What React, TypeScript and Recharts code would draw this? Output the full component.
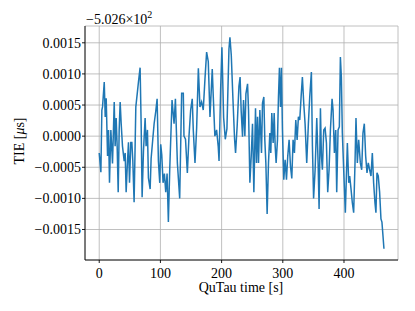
import React from 'react';
import { LineChart, Line, XAxis, YAxis, CartesianGrid } from 'recharts';

const times = [
  0, 2.7, 4.3, 5.4, 8.2, 9.8, 11.4, 13.6, 15.2, 16.8, 19, 21.7, 24.5, 26, 27.7, 29.3, 31, 32.6, 34.2, 35.9,
  38, 40.8, 42.4, 44, 46.2, 47.8, 49.5, 51.6, 53.3, 54.9, 57, 59.8, 62.5, 64.1, 66.8, 68.5, 70.1, 72.3, 75, 76.6,
  78.8, 80.4, 83.2, 84.8, 87.5, 89.7, 92.4, 94.6, 96.7, 98.9, 100.5, 102.2, 104.3, 106.5, 108.7, 110.9, 113,
  115.2, 119, 122.3, 124.5, 127.7, 131.5,
  134.7, 137.4, 138.5, 141, 144, 146.7, 149.4, 152, 153.7, 156.5, 159.2, 162, 164.6, 167.3, 170, 172.8,
  175.5, 178.2, 181, 184.7, 186.4, 189, 191.8, 194.5, 195.8, 198.4,
  200.5, 203.3, 206, 208.7, 212, 213.6, 215.8, 218.5, 221.2, 222.8, 225.5, 228.3, 230.2, 232,
  234.2, 235.8, 238, 239.7, 242.4, 244, 246.2, 248.4, 250.5, 252.7, 255.4, 257, 258.7, 260.3, 262.5, 265.2,
  266.8, 269, 270.6, 272.3, 274.4, 276.6, 278.8, 280.4, 282, 284.2, 285.9, 287.5, 289.1, 291.3, 292.9, 294.5,
  296.2, 297.8, 299.4, 301.6, 303.8, 306, 308.1, 310.3, 312.5, 314.7, 316.8, 319, 321.2, 323.4, 325.5, 327.7,
  329.9, 332, 334.2, 336.4, 339.1, 341.8, 344, 346.7, 348.4, 350.3,
  352.8, 355.5, 357.7, 359.3, 361.5, 363.1, 364.7, 366.9, 369.1, 371.3, 373.4, 375.6, 377.8, 380.5, 382.1,
  384.3, 386.5, 388.1, 390.3, 392.4, 394.1, 395.7, 397.3, 399.5, 402.2, 403.9, 405.5, 407.7, 409.3, 411.5,
  413.6, 415.8, 418, 419.6, 421.8, 424, 426.7, 428.9, 431, 433.2, 435.4, 437.6, 439.7, 441.9, 444.1, 446.3,
  448.4, 450.6, 452.2, 453.9, 456, 458.2, 460.4, 462, 463.7, 465.3,
];

const tie = [
  -0.00027, -0.00058, 0.00042, 0.00047, 0.00087, 0.00031, 0.00061, -0.00032, 0.0001, -0.00075, 0.0001, -0.00044,
  0.00055, -0.00016, 0.00029, -0.00016, -0.0009, 0.0001, 0.00055, 0.0002, -0.00016, -0.0004, -0.00027, -0.0009,
  -0.0004, -0.0001, -0.00075, -0.0001, -0.0001, -0.0004, -0.00106, 0.00047, 0.00072, 0.00087, 0.0011, 0.0002,
  -0.00098, -0.00024, 0.00029, -0.00016, 0.0001, -0.00067, -0.00085, -0.00036, -0.00005, 0.0002, 0.0004, 0.0006,
  -0.0004, -0.00075, -0.00013, -0.0003, -0.00075, -0.0006, -0.0009, -0.0006, -0.00138,
  -0.00054, 0.00058, 0.0002, 0.0006, -0.00043, -0.001,
  0.00069, 0.00069, 0, -0.00005, -0.00059, 0, 0.00042, 0.0006, 0.0001, -0.00043, 0.00013, 0.00109, 0.00047,
  0.00055, 0.00042, 0.00092, 0.00135, 0.0012, 0.00031, 0.00108, 0.00063, 0, 0.0001, -0.00017, -0.0004, 0.00075,
  0.00143, 0.0003, -0.00005, 0.00012, 0.0014, 0.00159, 0.0013, 0.0006, -0.00005, -0.00027, 0.00018, 0.0008,
  0.00095, 0.0004,
  -0.00001, 0.00058, 0, 0.00068, 0.00084, 0.00042, -0.00075, -0.00032, 0.0002, -0.0009, 0.00045, -0.00043,
  0.00031, -0.00043, 0.00042, -0.00027, 0.00053, 0.00063, -0.00006, -0.00043, -0.00125, -0.00043, 0.00005,
  -0.00027, 0.00037, -0.00011, 0.00037, -0.00016, -0.00043, -0.00006, 0.00063, 0.0011, 0.00047, 0.0011, 0.0001,
  -0.0007, -0.00038, -0.0007, -0.00032, -0.00006, -0.00048, -0.00068, -0.00006, -0.00027, 0.00026, -0.00006,
  0.00031, 0.00026, 0.00063, 0.00095, 0.00053, 0.0002, -0.00043, 0.0002, 0.00063, 0.00103, -0.00016, -0.001,
  -0.00054, 0.00029, -0.00043, -0.00117, 0.00045, -0.00032, -0.00054, 0.0001, 0.00013, -0.00011, -0.0009,
  -0.00054, 0.0001, 0.0006, 0.00042, -0.00027, 0.0001, -0.0009, 0.0001, 0.00015, 0.00127, 0.00095, 0.00005,
  -0.00054, -0.00123, -0.00064, -0.00011, -0.00075, -0.00064, -0.00085, -0.00107, -0.00123, -0.00043, 0.00029,
  -0.00043, -0.00006, -0.00043, -0.00054, 0.00005, 0.0002, -0.00032, -0.00059, -0.00043, -0.00054, -0.00064,
  -0.00027, -0.00075, -0.00107, -0.00123, -0.00059, -0.00064, -0.0009, -0.00133, -0.00138, -0.0016, -0.00181,
];

const xTicks = [0, 100, 200, 300, 400];
const yTicks = [-0.0015, -0.001, -0.0005, 0, 0.0005, 0.001, 0.0015];
const xDomain = [-23.25, 488.25];
const yDomain = [-0.00199, 0.00177];

const data = times.map((t, i) => ({ t, v: tie[i] }));

const FONT = '"Liberation Serif", "Times New Roman", serif';
const tickStyle = { fontSize: 14, fontFamily: FONT, fill: '#000' };
const fmtY = (v: number) => (v < 0 ? '\u2212' : '') + Math.abs(v).toFixed(4);

export default function App() {
  return (
    <div style={{ position: 'absolute', left: 0, top: 0, width: 415, height: 311, background: '#fff' }}>
      <LineChart
        width={415}
        height={311}
        data={data}
        margin={{ top: 26, right: 17, bottom: 0, left: 0 }}
      >
        <CartesianGrid stroke="#b0b0b0" strokeWidth={0.8} />
        <XAxis
          dataKey="t"
          type="number"
          domain={xDomain}
          ticks={xTicks}
          allowDataOverflow
          height={51}
          tick={tickStyle}
          tickSize={3}
          tickMargin={5}
          stroke="#000"
          axisLine={{ stroke: '#000', strokeWidth: 0.9 }}
          tickLine={{ stroke: '#000', strokeWidth: 0.9 }}
        />
        <XAxis
          xAxisId="top"
          orientation="top"
          type="number"
          domain={xDomain}
          allowDataOverflow
          height={0}
          tick={false}
          tickLine={false}
          axisLine={{ stroke: '#000', strokeWidth: 0.9 }}
        />
        <YAxis
          type="number"
          domain={yDomain}
          ticks={yTicks}
          allowDataOverflow
          width={85}
          tick={tickStyle}
          tickFormatter={fmtY}
          tickSize={3}
          tickMargin={1}
          axisLine={{ stroke: '#000', strokeWidth: 0.9 }}
          tickLine={{ stroke: '#000', strokeWidth: 0.9 }}
        />
        <YAxis
          yAxisId="right"
          orientation="right"
          type="number"
          domain={yDomain}
          allowDataOverflow
          width={0}
          tick={false}
          tickLine={false}
          axisLine={{ stroke: '#000', strokeWidth: 0.9 }}
        />
        <Line
          dataKey="v"
          type="linear"
          stroke="#1f77b4"
          strokeWidth={1.5}
          dot={false}
          isAnimationActive={false}
        />
      </LineChart>
      <svg
        width={415}
        height={311}
        style={{ position: 'absolute', left: 0, top: 0, pointerEvents: 'none' }}
      >
        <text x={86} y={24} fontSize={14} fontFamily={FONT} fill="#000">
          {'\u22125.026\u00d710'}
          <tspan dy={-6} fontSize={10}>2</tspan>
        </text>
        <text x={241} y={292} fontSize={14} fontFamily={FONT} fill="#000" textAnchor="middle">
          QuTau time [s]
        </text>
        <text
          x={24}
          y={141}
          fontSize={14}
          fontFamily={FONT}
          fill="#000"
          textAnchor="middle"
          transform="rotate(-90 24 141)"
        >
          {'TIE ['}
          <tspan fontStyle="italic">{'\u03bc'}</tspan>
          {'s]'}
        </text>
      </svg>
    </div>
  );
}
